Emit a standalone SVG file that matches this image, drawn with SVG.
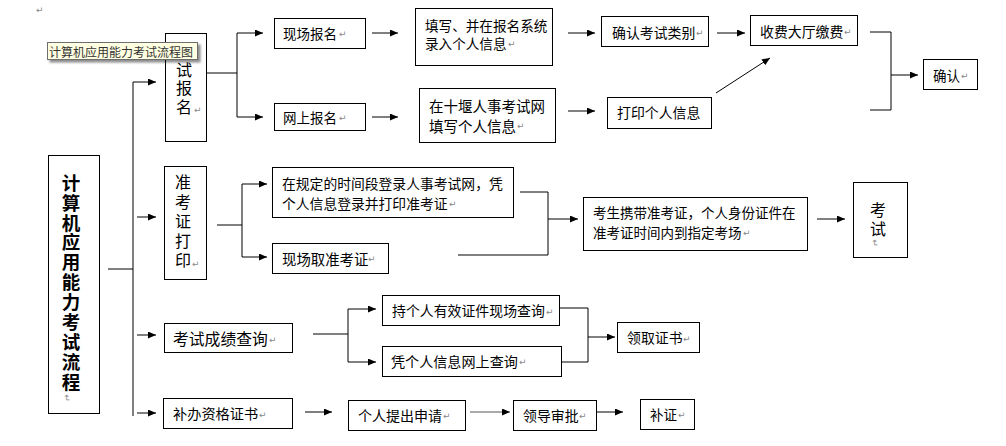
<svg xmlns="http://www.w3.org/2000/svg" width="1006" height="446" viewBox="0 0 1006 446">
<style>
.bx{fill:#fff;stroke:#000;stroke-width:1}
.t{font-family:"Noto Sans CJK SC","Liberation Sans",sans-serif;font-size:13.9px;fill:#000;dominant-baseline:central}
.v{font-family:"Noto Sans CJK SC","Liberation Sans",sans-serif;font-size:16px;fill:#000;writing-mode:vertical-rl;text-orientation:upright}
.m{font-family:"Noto Sans CJK SC","Liberation Sans",sans-serif;font-size:18.5px;font-weight:bold;fill:#000;writing-mode:vertical-rl;text-orientation:upright;letter-spacing:1.4px}
.pm{font-family:"DejaVu Sans",sans-serif;font-size:9px;fill:#888;dominant-baseline:central}
.ln{fill:none;stroke:#000;stroke-width:1}
.ar{fill:none;stroke:#000;stroke-width:1;marker-end:url(#ah)}
</style>
<defs>
<marker id="ah" markerWidth="9" markerHeight="8" refX="8" refY="3.5" orient="auto" markerUnits="userSpaceOnUse">
<path d="M0,0 L8,3.5 L0,7 z" fill="#000"/>
</marker>
<filter id="sh" x="-10%" y="-30%" width="130%" height="180%">
<feDropShadow dx="2.5" dy="2.5" stdDeviation="1" flood-color="#000" flood-opacity="0.45"/>
</filter>
</defs>
<rect width="1006" height="446" fill="#fff"/>
<text class="pm" x="36" y="10">↵</text>

<g id="connectors">
<path class="ln" d="M133,82 V416"/>
<path class="ar" d="M133,82 H156"/>
<path class="ln" d="M108,269 H133"/>
<path class="ar" d="M137,217 H156"/>
<path class="ar" d="M137,335 H156"/>
<path class="ar" d="M137,413 H156"/>
<path class="ln" d="M207,73 H237 M237,33 V117"/>
<path class="ar" d="M237,33 H263"/>
<path class="ar" d="M237,117 H263"/>
<path class="ar" d="M372,33 H398"/>
<path class="ar" d="M372,117 H398"/>
<path class="ar" d="M568,33 H595"/>
<path class="ar" d="M568,111 H595"/>
<path class="ar" d="M717,33 H745"/>
<path class="ar" d="M716,93 L770,58"/>
<path class="ln" d="M870,32 H891 V110 H870"/>
<path class="ar" d="M891,75 H918"/>
<path class="ln" d="M217,225 H242 M242,184 V257"/>
<path class="ar" d="M242,184 H267"/>
<path class="ar" d="M242,257 H267"/>
<path class="ln" d="M520,192 H548 V255 H458"/>
<path class="ar" d="M548,219 H578"/>
<path class="ar" d="M817,219 H845"/>
<path class="ln" d="M313,334 H348 M348,309 V362"/>
<path class="ar" d="M348,309 H376"/>
<path class="ar" d="M348,362 H376"/>
<path class="ln" d="M559,308 H588 V362 H561"/>
<path class="ar" d="M588,337 H615"/>
<path class="ar" d="M305,412 H332"/>
<path class="ar" d="M470,412 H510" style="stroke:#555"/>
<path class="ar" d="M596,412 H623"/>
</g>

<g id="n_main">
<rect class="bx" x="48.5" y="155.5" width="51" height="258"/>
<text class="m" x="71" y="173.5">计算机应用能力考试流程</text>
<text class="pm" x="0" y="0" transform="translate(67,398) rotate(90)" text-anchor="middle">↵</text>
</g>

<g id="n_kaoshibaoming">
<rect class="bx" x="165.5" y="33.5" width="41" height="108"/>
<text class="v" x="184" y="43" style="letter-spacing:2.7px">考试报名</text>
<text class="pm" x="194" y="110">↵</text>
</g>

<g id="n_xianchang">
<rect class="bx" x="274.5" y="18.5" width="91" height="30"/>
<text class="t" x="283" y="33" style="font-size:13.5px">现场报名</text>
<text class="pm" x="339" y="34">↵</text>
</g>

<g id="n_wangshang">
<rect class="bx" x="274.5" y="103.5" width="91" height="27"/>
<text class="t" x="283" y="117" style="font-size:13.5px">网上报名</text>
<text class="pm" x="339" y="118">↵</text>
</g>

<g id="n_tianxie">
<rect class="bx" x="415.5" y="8.5" width="137" height="57"/>
<text class="t" style="font-size:13.6px"><tspan x="425" y="25">填写、并在报名系统</tspan><tspan x="425" y="43">录入个人信息</tspan></text>
<text class="pm" x="508" y="44">↵</text>
</g>

<g id="n_shiyan">
<rect class="bx" x="419.5" y="88.5" width="136" height="54"/>
<text class="t" style="font-size:14.5px"><tspan x="429" y="105">在十堰人事考试网</tspan><tspan x="429" y="125">填写个人信息</tspan></text>
<text class="pm" x="517" y="126">↵</text>
</g>

<g id="n_queren_leibie">
<rect class="bx" x="601.5" y="16.5" width="107" height="30"/>
<text class="t" x="612" y="32">确认考试类别</text>
<text class="pm" x="696" y="33">↵</text>
</g>

<g id="n_dayin">
<rect class="bx" x="607.5" y="97.5" width="104" height="31"/>
<text class="t" x="617" y="112">打印个人信息</text>
</g>

<g id="n_shoufei">
<rect class="bx" x="750.5" y="15.5" width="107" height="30"/>
<text class="t" x="760" y="31">收费大厅缴费</text>
<text class="pm" x="844" y="32">↵</text>
</g>

<g id="n_queren">
<rect class="bx" x="923.5" y="59.5" width="54" height="30"/>
<text class="t" x="933" y="75" style="font-size:13.5px">确认</text>
<text class="pm" x="961" y="76">↵</text>
</g>

<g id="n_zhunkaozheng">
<rect class="bx" x="164.5" y="166.5" width="42" height="113"/>
<text class="v" x="183" y="174" style="letter-spacing:3.5px">准考证打印</text>
<text class="pm" x="192" y="264">↵</text>
</g>

<g id="n_guiding">
<rect class="bx" x="272.5" y="167.5" width="241" height="50"/>
<text class="t" style="font-size:13.8px"><tspan x="282" y="183">在规定的时间段登录人事考试网，凭</tspan><tspan x="282" y="203">个人信息登录并打印准考证</tspan></text>
<text class="pm" x="449" y="204">↵</text>
</g>

<g id="n_xianchangqu">
<rect class="bx" x="272.5" y="243.5" width="116" height="30"/>
<text class="t" x="282" y="258" style="font-size:14.4px">现场取准考证</text>
<text class="pm" x="368" y="259">↵</text>
</g>

<g id="n_xiedai">
<rect class="bx" x="583.5" y="197.5" width="224" height="53"/>
<text class="t" style="font-size:13.5px"><tspan x="593" y="212">考生携带准考证，个人身份证件在</tspan><tspan x="593" y="232">准考证时间内到指定考场</tspan></text>
<text class="pm" x="743" y="233">↵</text>
</g>

<g id="n_kaoshi">
<rect class="bx" x="853.5" y="182.5" width="54" height="75"/>
<text class="v" x="878" y="202" style="letter-spacing:3px">考试</text>
<text class="pm" x="0" y="0" transform="translate(875,243) rotate(90)" text-anchor="middle">↵</text>
</g>

<g id="n_chengji">
<rect class="bx" x="164.5" y="323.5" width="128" height="29"/>
<text class="t" x="173" y="338" style="font-size:15.8px">考试成绩查询</text>
<text class="pm" x="269" y="340">↵</text>
</g>

<g id="n_chi">
<rect class="bx" x="382.5" y="295.5" width="177" height="30"/>
<text class="t" x="392" y="310">持个人有效证件现场查询</text>
<text class="pm" x="546" y="312">↵</text>
</g>

<g id="n_ping">
<rect class="bx" x="382.5" y="346.5" width="179" height="30"/>
<text class="t" x="391" y="361" style="font-size:14.1px">凭个人信息网上查询</text>
<text class="pm" x="519" y="362">↵</text>
</g>

<g id="n_lingqu">
<rect class="bx" x="617.5" y="322.5" width="82" height="30"/>
<text class="t" x="627" y="337">领取证书</text>
<text class="pm" x="683" y="339">↵</text>
</g>

<g id="n_buban">
<rect class="bx" x="163.5" y="398.5" width="129" height="30"/>
<text class="t" x="173" y="413" style="font-size:14.2px">补办资格证书</text>
<text class="pm" x="259" y="415">↵</text>
</g>

<g id="n_shenqing">
<rect class="bx" x="348.5" y="400.5" width="117" height="30"/>
<text class="t" x="358" y="415" style="font-size:14px">个人提出申请</text>
<text class="pm" x="443" y="416">↵</text>
</g>

<g id="n_shenpi">
<rect class="bx" x="513.5" y="400.5" width="83" height="30"/>
<text class="t" x="523" y="415">领导审批</text>
<text class="pm" x="579" y="416">↵</text>
</g>

<g id="n_buzheng">
<rect class="bx" x="640.5" y="399.5" width="54" height="30"/>
<text class="t" x="650" y="414" style="font-size:13.5px">补证</text>
<text class="pm" x="678" y="415">↵</text>
</g>

<g id="tooltip">
<rect x="47.5" y="42.5" width="150" height="17" fill="#ffffe1" stroke="#6e6e6e" stroke-width="1" filter="url(#sh)"/>
<text x="49" y="51.5" style="font-family:'Noto Sans CJK SC',sans-serif;font-size:12px;fill:#333;dominant-baseline:central">计算机应用能力考试流程图</text>
</g>
</svg>
